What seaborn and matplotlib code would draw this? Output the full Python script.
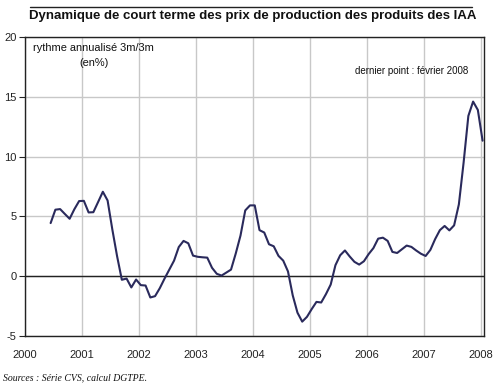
import numpy as np
import pandas as pd
import matplotlib
matplotlib.use("Agg")
import matplotlib.pyplot as plt
import seaborn as sns

# ---- data (monthly, Jul 2000 -> Feb 2008) ----
start_year = 2000
start_month = 7
values = [
    4.44, 5.56, 5.61, 5.2, 4.8, 5.6, 6.28, 6.3, 5.33, 5.35, 6.2, 7.06,   # Jul00-Jun01
    6.33, 3.9, 1.67, -0.3, -0.2, -0.94, -0.28, -0.75, -0.78, -1.78, -1.67, -1.0,  # Jul01-Jun02
    -0.2, 0.55, 1.3, 2.44, 2.95, 2.75, 1.72, 1.62, 1.58, 1.55, 0.7, 0.2,  # Jul02-Jun03
    0.05, 0.3, 0.55, 1.9, 3.4, 5.5, 5.92, 5.92, 3.85, 3.65, 2.67, 2.5,   # Jul03-Jun04
    1.7, 1.3, 0.4, -1.6, -3.05, -3.8, -3.4, -2.75, -2.15, -2.2, -1.5, -0.7,  # Jul04-Jun05
    0.92, 1.75, 2.15, 1.65, 1.2, 0.97, 1.25, 1.85, 2.35, 3.14, 3.22, 2.95,  # Jul05-Jun06
    2.03, 1.94, 2.25, 2.56, 2.45, 2.15, 1.88, 1.69, 2.2, 3.1, 3.85, 4.2,   # Jul06-Jun07
    3.83, 4.25, 6.0, 9.5, 13.4, 14.6, 13.9, 11.33,                        # Jul07-Feb08
]
year_ticks = [2000, 2001, 2002, 2003, 2004, 2005, 2006, 2007, 2008]
y_ticks = [-5, 0, 5, 10, 15, 20]

title = "Dynamique de court terme des prix de production des produits des IAA"
ylabel_note1 = "rythme annualisé 3m/3m"
ylabel_note2 = "(en%)"
last_point = "dernier point : février 2008"
source = "Sources : Série CVS, calcul DGTPE."

n = len(values)
months_idx = np.arange(n) + (start_month - 1)
pos = start_year + months_idx / 12.0 - 0.05
df = pd.DataFrame({"t": pos, "v": values})

sns.set_theme(style="white")
plt.rcParams["font.family"] = ["Liberation Sans", "DejaVu Sans"]

fig = plt.figure(figsize=(5.0, 3.91), dpi=100)
ax = fig.add_axes([0.05, 0.1407, 0.918, 0.7647])

sns.lineplot(data=df, x="t", y="v", ax=ax, color="#2a2a5c", linewidth=1.5)

ax.set_xlim(2000, 2008.058)
ax.set_ylim(-5, 20)
ax.set_xticks(year_ticks)
ax.set_xticklabels([str(y) for y in year_ticks], fontsize=8)
ax.set_yticks(y_ticks)
ax.set_yticklabels([str(y) for y in y_ticks], fontsize=8)
ax.tick_params(axis="x", length=0, pad=10, colors="#222222")
ax.tick_params(axis="y", length=4, width=0.8, pad=2, colors="#222222", direction="out", left=True)
ax.set_xlabel("")
ax.set_ylabel("")

ax.grid(True, color="#c8c8c8", linewidth=1.0)
ax.axhline(0, color="#222222", linewidth=1.0, zorder=1.5)
for s in ax.spines.values():
    s.set_visible(True)
    s.set_color("#222222")
    s.set_linewidth(1.0)

ax.text(0.018, 0.963, ylabel_note1, transform=ax.transAxes, fontsize=7.9,
        ha="left", va="center", color="#111111")
ax.text(0.150, 0.913, ylabel_note2, transform=ax.transAxes, fontsize=7.9,
        ha="center", va="center", color="#111111")
ax.text(0.965, 0.885, last_point, transform=ax.transAxes, fontsize=7,
        ha="right", va="center", color="#111111")

fig.text(0.505, 1 - 15.5 / 391, title, fontsize=9.5, fontweight="bold",
         ha="center", va="center", family=["Liberation Sans Narrow", "Liberation Sans"],
         color="#111111")
fig.add_artist(plt.Line2D([30 / 500, 472 / 500], [1 - 7 / 391, 1 - 7 / 391],
                          color="#222222", linewidth=1.0, transform=fig.transFigure))
fig.text(0.006, 1 - 378 / 391, source, fontsize=7, style="italic",
         family=["Liberation Serif", "DejaVu Serif"], ha="left", va="center",
         color="#111111")

fig.savefig("out.png", dpi=100, facecolor="white")
